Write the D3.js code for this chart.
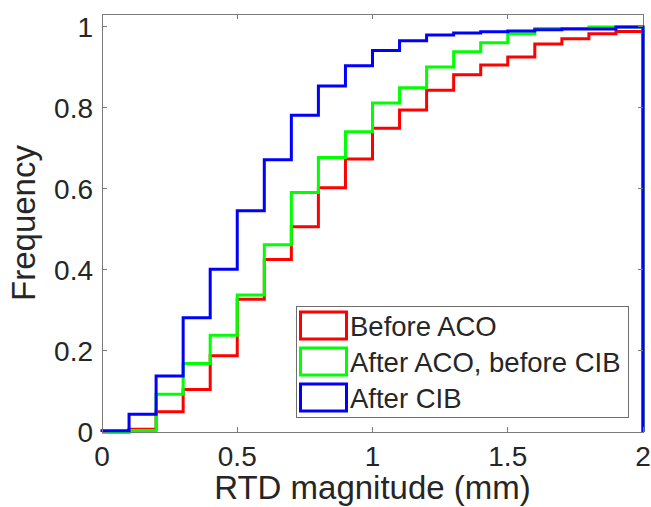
<!DOCTYPE html>
<html>
<head>
<meta charset="utf-8">
<script src="https://cdn.jsdelivr.net/npm/d3@7"></script>
<style>
  body { margin: 0; background: #fff; }
  text { font-family: "Liberation Sans", Arial, sans-serif; fill: #262626; }
</style>
</head>
<body>
<div id="chart"></div>
<script>
// bin edges 0:0.1:2, cumulative frequency per bin
const binStarts = [0, 0.1, 0.2, 0.3, 0.4, 0.5, 0.6, 0.7, 0.8, 0.9,
  1.0, 1.1, 1.2, 1.3, 1.4, 1.5, 1.6, 1.7, 1.8, 1.9];
const binEnd = 2;

const beforeACO = [0, 0.007, 0.05, 0.105, 0.188, 0.328, 0.426, 0.507, 0.603, 0.674,
  0.75, 0.795, 0.844, 0.882, 0.906, 0.926, 0.958, 0.971, 0.983, 0.989];
const afterACO = [0, 0.004, 0.093, 0.169, 0.239, 0.338, 0.462, 0.591, 0.678, 0.741,
  0.812, 0.85, 0.901, 0.939, 0.961, 0.983, 0.996, 0.996, 1.0, 1.0];
const afterCIB = [0.003, 0.044, 0.138, 0.282, 0.402, 0.546, 0.672, 0.782, 0.854, 0.904,
  0.942, 0.966, 0.98, 0.985, 0.988, 0.99, 0.993, 0.995, 0.995, 1.0];

const seriesNames = ["Before ACO", "After ACO, before CIB", "After CIB"];
const seriesColors = ["#ff0000", "#00ff00", "#0000ff"];
const xTicks = [0, 0.5, 1, 1.5, 2];
const yTicks = [0, 0.2, 0.4, 0.6, 0.8, 1];

const series = [beforeACO, afterACO, afterCIB];

let dimensions = {
  width: 651,
  height: 507,
  margin: { top: 14, right: 8, bottom: 75, left: 102 },
};
dimensions.boundedWidth = dimensions.width - dimensions.margin.left - dimensions.margin.right;
dimensions.boundedHeight = dimensions.height - dimensions.margin.top - dimensions.margin.bottom;

const svg = d3.select("#chart").append("svg")
  .attr("width", dimensions.width)
  .attr("height", dimensions.height);

const bounds = svg.append("g")
  .attr("transform", `translate(${dimensions.margin.left},${dimensions.margin.top})`);

const xScale = d3.scaleLinear().domain([0, 2]).range([0, dimensions.boundedWidth]);
const yScale = d3.scaleLinear().domain([0, 1.032]).range([dimensions.boundedHeight, 0]);

const axisColor = "#7a7a7a";
const tickLen = 5;

// axes box
bounds.append("rect")
  .attr("x", 0).attr("y", 0)
  .attr("width", dimensions.boundedWidth)
  .attr("height", dimensions.boundedHeight)
  .attr("fill", "none")
  .attr("stroke", axisColor)
  .attr("stroke-width", 1)
  .attr("shape-rendering", "crispEdges");

// stairs
const line = d3.line()
  .x((d) => xScale(d[0]))
  .y((d) => yScale(d[1]))
  .curve(d3.curveStepAfter);

series.forEach((vals, i) => {
  const pts = [[0, 0]];
  vals.forEach((v, j) => pts.push([binStarts[j], v]));
  pts.push([binEnd, vals[vals.length - 1]]);
  pts.push([binEnd, 0]);
  bounds.append("path")
    .datum(pts)
    .attr("d", line)
    .attr("fill", "none")
    .attr("stroke", seriesColors[i])
    .attr("stroke-width", 3)
    .attr("stroke-linejoin", "miter");
});

// ticks (inside, on all four sides)
const tickG = bounds.append("g")
  .attr("stroke", axisColor)
  .attr("stroke-width", 1)
  .attr("shape-rendering", "crispEdges");

xTicks.forEach((t) => {
  const x = xScale(t);
  tickG.append("line").attr("x1", x).attr("x2", x)
    .attr("y1", dimensions.boundedHeight).attr("y2", dimensions.boundedHeight - tickLen);
  tickG.append("line").attr("x1", x).attr("x2", x)
    .attr("y1", 0).attr("y2", tickLen);
});
yTicks.forEach((t) => {
  const y = yScale(t);
  tickG.append("line").attr("x1", 0).attr("x2", tickLen).attr("y1", y).attr("y2", y);
  tickG.append("line").attr("x1", dimensions.boundedWidth)
    .attr("x2", dimensions.boundedWidth - tickLen).attr("y1", y).attr("y2", y);
});

// tick labels
bounds.append("g").selectAll("text")
  .data(xTicks)
  .join("text")
  .attr("x", (d) => xScale(d))
  .attr("y", dimensions.boundedHeight + 34)
  .attr("text-anchor", "middle")
  .style("font-size", "28px")
  .text((d) => d);

bounds.append("g").selectAll("text")
  .data(yTicks)
  .join("text")
  .attr("x", -9)
  .attr("y", (d) => yScale(d) + 10)
  .attr("text-anchor", "end")
  .style("font-size", "28px")
  .text((d) => d);

// axis labels
bounds.append("text")
  .attr("x", dimensions.boundedWidth / 2)
  .attr("y", dimensions.boundedHeight + 67)
  .attr("text-anchor", "middle")
  .style("font-size", "33px")
  .text("RTD magnitude (mm)");

bounds.append("text")
  .attr("transform", `translate(${35 - dimensions.margin.left},${dimensions.boundedHeight / 2}) rotate(-90)`)
  .attr("text-anchor", "middle")
  .style("font-size", "33px")
  .text("Frequency");

// legend
const legend = svg.append("g").attr("transform", "translate(296,306)");
legend.append("rect")
  .attr("width", 332).attr("height", 111)
  .attr("fill", "#fff")
  .attr("stroke", "#6e6e6e")
  .attr("stroke-width", 1)
  .attr("shape-rendering", "crispEdges");

seriesNames.forEach((name, i) => {
  const cy = 19.5 + i * 36;
  legend.append("rect")
    .attr("x", 4.5).attr("y", cy - 13.5)
    .attr("width", 46).attr("height", 27)
    .attr("fill", "#fff")
    .attr("stroke", seriesColors[i])
    .attr("stroke-width", 3);
  legend.append("text")
    .attr("x", 54)
    .attr("y", cy + 10)
    .style("font-size", "27.5px")
    .text(name);
});
</script>
</body>
</html>
